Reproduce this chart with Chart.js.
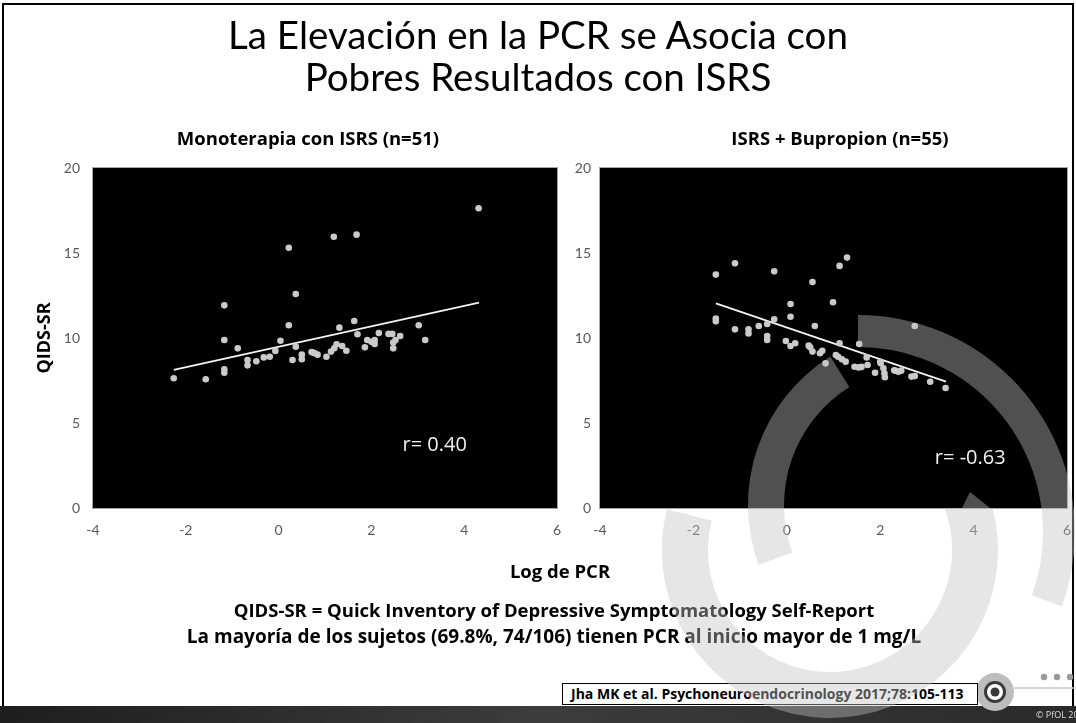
<!DOCTYPE html>
<html><head><meta charset="utf-8">
<script src="https://cdn.jsdelivr.net/npm/chart.js@4"></script>
<style>
html,body{margin:0;padding:0;background:#fff;}
body{width:1076px;height:723px;position:relative;overflow:hidden;font-family:"Open Sans",Lato,sans-serif;color:#000;}
.abs{position:absolute;}
.c{text-align:center;white-space:nowrap;}
#title{left:0;width:1076px;top:13px;font-family:Lato;font-size:38.5px;line-height:42px;font-weight:400;}
.sub{top:126px;font-size:18.5px;font-weight:700;line-height:24px;}
#xlab{left:460px;width:200px;top:559px;font-size:18.5px;font-weight:700;line-height:24px;}
.foot{left:0;width:1108px;font-size:18.5px;font-weight:700;line-height:24px;}
#f2{font-size:19px;}
#cite{left:562px;top:683px;width:416px;height:22px;border:1.5px solid #000;background:#fff;box-sizing:border-box;font-size:14px;font-weight:700;line-height:19px;padding-left:8px;white-space:nowrap;z-index:5;}
canvas{position:absolute;}
#deco{left:0;top:0;z-index:0;}
#overlay{left:0;top:0;z-index:10;pointer-events:none;}
#c1{left:0;top:150px;z-index:2;}
#c2{left:520px;top:150px;z-index:2;}
#pfol{left:1036px;top:709px;font-size:9px;line-height:11px;color:#ddd;z-index:6;white-space:nowrap;}
</style>
</head><body>
<canvas id="deco" width="1076" height="723"></canvas>
<div id="title" class="abs c">La Elevación en la PCR se Asocia con<br>Pobres Resultados con ISRS</div>
<div class="abs c sub" style="left:158px;width:300px;">Monoterapia con ISRS (n=51)</div>
<div class="abs c sub" style="left:690px;width:300px;">ISRS + Bupropion (n=55)</div>
<canvas id="c1" width="580" height="420"></canvas>
<canvas id="c2" width="556" height="420"></canvas>
<div id="xlab" class="abs c">Log de PCR</div>
<div class="abs c foot" style="top:598px;">QIDS-SR = Quick Inventory of Depressive Symptomatology Self-Report</div>
<div id="f2" class="abs c foot" style="top:624px;">La mayoría de los sujetos (69.8%, 74/106) tienen PCR al inicio mayor de 1 mg/L</div>
<div id="cite" class="abs">Jha MK et al. Psychoneuroendocrinology 2017;78:105-113</div>
<div id="pfol" class="abs">© PfOL 2017</div>
<canvas id="overlay" width="1076" height="723"></canvas>
<script>
// ---- data ----
const xTicks = [-4, -2, 0, 2, 4, 6];
const yTicks = [0, 5, 10, 15, 20];

const monoX = [-2.26,-1.57,-1.17,-1.17,-1.17,-1.17,-0.88,-0.67,-0.67,-0.48,-0.32,-0.19,-0.07,0.04,0.22,0.22,0.30,0.37,0.37,0.50,0.50,0.71,0.78,0.84,1.03,1.13,1.19,1.25,1.31,1.37,1.46,1.63,1.68,1.70,1.86,1.91,2.00,2.07,2.07,2.16,2.37,2.45,2.47,2.47,2.52,2.62,3.02,3.16,4.31,1.20,0.74];
const monoY = [7.63,7.57,11.92,9.88,8.16,7.96,9.39,8.71,8.39,8.63,8.86,8.90,9.24,9.84,15.31,10.75,8.71,12.59,9.49,9.02,8.75,9.18,9.10,9.02,8.90,9.20,15.96,9.63,10.61,9.53,9.25,11.00,16.08,10.22,9.45,9.88,9.78,9.88,9.65,10.29,10.24,10.24,9.73,9.39,9.88,10.12,10.75,9.88,17.63,9.40,9.15];
const monoTrendX = [-2.26, 4.32];
const monoTrendY = [8.12, 12.08];

const bupX = [-1.52,-1.52,-1.52,-1.11,-1.11,-0.82,-0.82,-0.60,-0.42,-0.42,-0.42,-0.27,-0.27,-0.02,0.08,0.08,0.08,0.18,0.47,0.55,0.55,0.60,0.71,0.76,0.83,0.99,1.13,1.29,1.13,1.10,1.18,1.26,1.45,1.54,1.55,1.71,1.73,1.89,2.01,2.07,2.09,2.10,2.32,2.39,2.45,2.67,2.74,2.74,3.07,3.40,0.50,1.05,1.60,2.30,2.00];
const bupY = [13.73,11.14,10.98,14.39,10.51,10.51,10.27,10.71,10.82,10.12,9.88,13.92,11.10,9.82,12.00,11.25,9.53,9.69,9.55,13.29,9.20,10.71,9.10,9.25,8.51,12.10,14.24,14.73,9.69,8.90,8.75,8.61,8.31,8.27,9.65,8.86,8.41,7.96,8.51,8.22,7.92,7.69,8.08,8.02,8.08,7.73,7.76,10.71,7.43,7.06,9.45,9.00,8.30,8.10,8.60];
const bupTrendX = [-1.52, 3.41];
const bupTrendY = [12.04, 7.43];

const monoR = "r= 0.40";
const bupR = "r= -0.63";

function pts(xs, ys){ return xs.map((x,i)=>({x:x, y:ys[i]})); }

const plotBg = {
  id:'plotBg',
  beforeDraw(chart){
    const {ctx, chartArea:a} = chart;
    ctx.save();
    ctx.fillStyle = '#000';
    ctx.fillRect(a.left, a.top, a.right-a.left, a.bottom-a.top);
    ctx.strokeStyle = '#a6a6a6';
    ctx.lineWidth = 1;
    ctx.strokeRect(a.left-0.5, a.top-0.5, a.right-a.left+1, a.bottom-a.top+1);
    ctx.restore();
  }
};
const rLabel = {
  id:'rLabel',
  afterDatasetsDraw(chart, args, opts){
    const {ctx, scales} = chart;
    ctx.save();
    ctx.fillStyle = '#f2f2f2';
    ctx.font = '20px "Open Sans"';
    ctx.textBaseline = 'middle';
    ctx.textAlign = 'left';
    ctx.fillText(opts.text, scales.x.getPixelForValue(opts.x), scales.y.getPixelForValue(opts.y));
    ctx.restore();
  }
};

function makeChart(id, xs, ys, tx, ty, rText, rx, ry, yWidth, padRight, yTitle, yPad, yTickPad){
  return new Chart(document.getElementById(id), {
    type:'scatter',
    data:{datasets:[
      {data:pts(tx, ty), showLine:true, borderColor:'#f4f4f4', borderWidth:1.8, pointRadius:0, order:1},
      {data:pts(xs, ys), backgroundColor:'#cacaca', borderWidth:0, pointRadius:3.3, order:0}
    ]},
    options:{
      responsive:false, animation:false, devicePixelRatio:1,
      layout:{padding:{left:0, top:18, right:padRight, bottom:0}},
      plugins:{legend:{display:false}, tooltip:{enabled:false}, rLabel:{text:rText, x:rx, y:ry}},
      scales:{
        x:{type:'linear', min:xTicks[0], max:xTicks[xTicks.length-1],
           afterBuildTicks(s){ s.ticks = xTicks.map(v=>({value:v})); },
           afterFit(s){ s.height = 62; s.paddingLeft = 0; s.paddingRight = 0; },
           grid:{display:false, drawTicks:false}, border:{display:false},
           ticks:{color:'#595959', font:{family:'Lato', size:14}, padding:14, maxRotation:0}},
        y:{type:'linear', min:yTicks[0], max:yTicks[yTicks.length-1],
           afterBuildTicks(s){ s.ticks = yTicks.map(v=>({value:v})); },
           afterFit(s){ s.width = yWidth; s.paddingTop = 0; s.paddingBottom = 0; },
           grid:{display:false, drawTicks:false}, border:{display:false},
           title:{display:!!yTitle, text:yTitle||'', color:'#000', font:{family:'Open Sans', size:18, weight:'bold'}, padding:{top:yPad, bottom:0}},
           ticks:{color:'#595959', font:{family:'Lato', size:14}, padding:yTickPad}}
      }
    },
    plugins:[plotBg, rLabel]
  });
}

makeChart('c1', monoX, monoY, monoTrendX, monoTrendY, monoR, 2.67, 3.7, 93, 23, 'QIDS-SR', 34, 13);
makeChart('c2', bupX, bupY, bupTrendX, bupTrendY, bupR, 3.17, 2.94, 80, 9, null, 0, 9);

// ---- slide decoration ----
(function(){
  const d = document.getElementById('deco').getContext('2d');
  d.strokeStyle = '#000'; d.lineWidth = 2;
  d.strokeRect(3, 4, 1070, 703);
  const g = d.createLinearGradient(0, 0, 1076, 0);
  g.addColorStop(0, '#1e1e1e'); g.addColorStop(0.5, '#3c3c3c'); g.addColorStop(1, '#2a2a2a');
  d.fillStyle = g; d.fillRect(0, 706, 1076, 17);
  d.fillStyle = '#bdbdbd'; d.beginPath(); d.arc(995, 692, 19, 0, Math.PI*2); d.fill();
  d.fillStyle = '#3a3a3a'; d.beginPath(); d.arc(995, 692, 11, 0, Math.PI*2); d.fill();
  d.fillStyle = '#fff'; d.beginPath(); d.arc(995, 692, 8, 0, Math.PI*2); d.fill();
  d.fillStyle = '#3a3a3a'; d.beginPath(); d.arc(995, 692, 4.5, 0, Math.PI*2); d.fill();
  d.fillStyle = '#9a9a9a';
  [1044, 1057, 1070].forEach(x=>{ d.beginPath(); d.arc(x, 677, 3.2, 0, Math.PI*2); d.fill(); });
  d.strokeStyle = '#c8c8c8'; d.lineWidth = 1.5;
  d.beginPath(); d.moveTo(1014, 688); d.lineTo(1076, 688); d.stroke();
})();

// ---- watermark overlay ----
(function(){
  const o = document.getElementById('overlay').getContext('2d');
  o.fillStyle = 'rgba(195,195,195,0.41)';
  const rad = a => a*Math.PI/180;
  function ring(cx, cy, R, r, a0, a1, ccw){
    o.beginPath();
    o.arc(cx, cy, R, rad(a0), rad(a1), ccw);
    o.arc(cx, cy, r, rad(a1), rad(a0), !ccw);
    o.closePath(); o.fill();
  }
  ring(858, 532, 217, 185, -90, 20, false);
  ring(923, 505, 175, 139, -122, 160, true);
  o.save();
  o.beginPath();
  o.rect(0, 0, 1076, 723);
  o.rect(600, 168, 467, 340);
  o.clip('evenodd');
  ring(830, 550, 168, 122, -21, 194, false);
  o.restore();
  o.beginPath();
  o.moveTo(962, 508); o.lineTo(970, 492); o.lineTo(990, 508); o.closePath(); o.fill();
})();
</script>
</body></html>
